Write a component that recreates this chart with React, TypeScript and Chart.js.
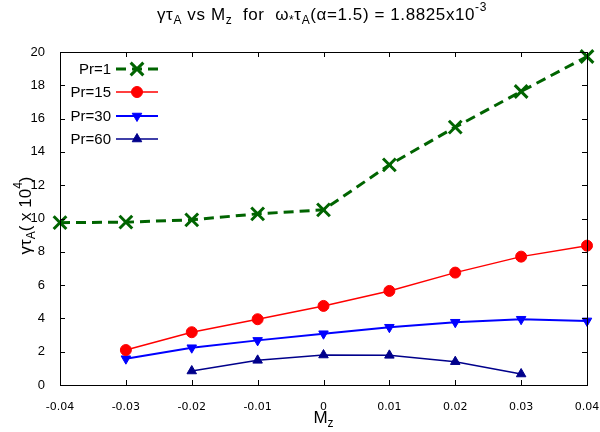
import React, { useEffect, useRef } from "react";
import { Chart, registerables } from "chart.js";

Chart.register(...registerables);

// ---------- data ----------
const mz = [-0.04, -0.03, -0.02, -0.01, 0, 0.01, 0.02, 0.03, 0.04];
const pr1 = [9.75, 9.78, 9.92, 10.28, 10.52, 13.22, 15.49, 17.63, 19.73];
const pr15 = [null, 2.1, 3.17, 3.95, 4.75, 5.65, 6.75, 7.71, 8.37];
const pr30 = [null, 1.58, 2.24, 2.68, 3.08, 3.47, 3.77, 3.95, 3.85];
const pr60 = [null, null, 0.84, 1.48, 1.8, 1.78, 1.4, 0.66, null];

const seriesNames = ["Pr=1", "Pr=15", "Pr=30", "Pr=60"];

const xTicks = [-0.04, -0.03, -0.02, -0.01, 0, 0.01, 0.02, 0.03, 0.04];
const xTickLabels = ["-0.04", "-0.03", "-0.02", "-0.01", "0", "0.01", "0.02", "0.03", "0.04"];
const yTicks = [0, 2, 4, 6, 8, 10, 12, 14, 16, 18, 20];
const yTickLabels = ["0", "2", "4", "6", "8", "10", "12", "14", "16", "18", "20"];

type Seg = { t: string; s?: "sub" | "sup" };
const titleSegs: Seg[] = [
  { t: "γτ" }, { t: "A", s: "sub" }, { t: " vs M" }, { t: "z", s: "sub" },
  { t: "  for  ω" }, { t: "*", s: "sub" }, { t: "τ" }, { t: "A", s: "sub" },
  { t: "(α=1.5) = 1.8825x10" }, { t: "-3", s: "sup" },
];
const yTitleSegs: Seg[] = [
  { t: "γτ" }, { t: "A", s: "sub" }, { t: "( x 10" }, { t: "4", s: "sup" }, { t: ")" },
];
const xTitleSegs: Seg[] = [{ t: "M" }, { t: "z", s: "sub" }];

const toPoints = (vals: (number | null)[]) =>
  mz.map((x, i) => ({ x, y: vals[i] })).filter((p) => p.y !== null) as { x: number; y: number }[];

const SANS = "'Liberation Sans', Arial, sans-serif";

function drawRich(
  ctx: CanvasRenderingContext2D, segs: Seg[], cx: number, cy: number, size: number, spacing = 0
) {
  const main = `${size}px ${SANS}`;
  const small = `${Math.round(size * 0.72)}px ${SANS}`;
  (ctx as any).letterSpacing = `${spacing}px`;
  const widths = segs.map((s) => {
    ctx.font = s.s ? small : main;
    return ctx.measureText(s.t).width;
  });
  const total = widths.reduce((a, b) => a + b, 0);
  let x = cx - total / 2;
  ctx.textAlign = "left";
  ctx.textBaseline = "middle";
  ctx.fillStyle = "#000";
  segs.forEach((s, i) => {
    ctx.font = s.s ? small : main;
    const dy = s.s === "sub" ? size * 0.32 : s.s === "sup" ? -size * 0.42 : 0;
    ctx.fillText(s.t, x, cy + dy);
    x += widths[i];
  });
  (ctx as any).letterSpacing = "0px";
}

function drawMarker(
  ctx: CanvasRenderingContext2D, style: string, x: number, y: number, r: number,
  color: string, bw: number, rotation: number
) {
  ctx.save();
  ctx.translate(x, y);
  ctx.rotate((rotation * Math.PI) / 180);
  ctx.strokeStyle = color;
  ctx.fillStyle = color;
  ctx.lineWidth = bw;
  ctx.setLineDash([]);
  ctx.beginPath();
  if (style === "circle") {
    ctx.arc(0, 0, r, 0, Math.PI * 2);
    ctx.fill();
    ctx.stroke();
  } else if (style === "triangle") {
    for (let k = 0; k < 3; k++) {
      const a = (k * 2 * Math.PI) / 3;
      const px = Math.sin(a) * r;
      const py = -Math.cos(a) * r;
      if (k === 0) ctx.moveTo(px, py);
      else ctx.lineTo(px, py);
    }
    ctx.closePath();
    ctx.fill();
    ctx.stroke();
  } else if (style === "crossRot") {
    const d = r * Math.SQRT1_2;
    ctx.moveTo(-d, -d); ctx.lineTo(d, d);
    ctx.moveTo(-d, d); ctx.lineTo(d, -d);
    ctx.stroke();
  }
  ctx.restore();
}

const decorPlugin = {
  id: "decor",
  afterDraw(chart: any) {
    const ctx: CanvasRenderingContext2D = chart.ctx;
    const a = chart.chartArea;
    const xs = chart.scales.x;
    const ys = chart.scales.y;
    ctx.save();
    // frame
    ctx.strokeStyle = "#000";
    ctx.lineWidth = 1;
    ctx.setLineDash([]);
    ctx.strokeRect(Math.round(a.left) + 0.5, Math.round(a.top) + 0.5,
      Math.round(a.right - a.left), Math.round(a.bottom - a.top));
    const tl = 5;
    ctx.beginPath();
    xs.ticks.forEach((t: any) => {
      const px = Math.round(xs.getPixelForValue(t.value)) + 0.5;
      ctx.moveTo(px, a.bottom); ctx.lineTo(px, a.bottom - tl);
      ctx.moveTo(px, a.top); ctx.lineTo(px, a.top + tl);
    });
    ys.ticks.forEach((t: any) => {
      const py = Math.round(ys.getPixelForValue(t.value)) + 0.5;
      ctx.moveTo(a.left, py); ctx.lineTo(a.left + tl, py);
      ctx.moveTo(a.right, py); ctx.lineTo(a.right - tl, py);
    });
    ctx.stroke();

    // titles
    drawRich(ctx, titleSegs, 322, 15, 17, 0.6);
    drawRich(ctx, xTitleSegs, (a.left + a.right) / 2, 418, 17);
    ctx.save();
    ctx.translate(26, (a.top + a.bottom) / 2 - 3);
    ctx.rotate(-Math.PI / 2);
    drawRich(ctx, yTitleSegs, 0, 0, 17);
    ctx.restore();

    // legend
    const rowY = [69, 92, 116, 139];
    chart.data.datasets.forEach((ds: any, i: number) => {
      const y = rowY[i];
      ctx.font = `15px ${SANS}`;
      ctx.fillStyle = "#000";
      ctx.textAlign = "right";
      ctx.textBaseline = "middle";
      ctx.fillText(ds.label, 111, y + 1);
      ctx.strokeStyle = ds.borderColor;
      ctx.lineWidth = ds.borderWidth;
      ctx.setLineDash(ds.borderDash || []);
      ctx.beginPath();
      ctx.moveTo(116, y);
      ctx.lineTo(158, y);
      ctx.stroke();
      drawMarker(ctx, ds.pointStyle, 137, y, ds.pointRadius, ds.pointBorderColor || ds.borderColor,
        ds.pointBorderWidth, ds.pointRotation || 0);
    });
    ctx.restore();
  },
};

export default function App() {
  const ref = useRef<HTMLCanvasElement | null>(null);
  useEffect(() => {
    if (!ref.current) return;
    const chart = new Chart(ref.current, {
      type: "line",
      data: {
        datasets: [
          {
            label: seriesNames[0],
            data: toPoints(pr1),
            borderColor: "#006400",
            backgroundColor: "#006400",
            borderWidth: 3,
            borderDash: [10, 6],
            pointStyle: "crossRot",
            pointRadius: 9,
            pointBorderWidth: 3,
            pointBorderColor: "#006400",
            clip: false,
          } as any,
          {
            label: seriesNames[1],
            data: toPoints(pr15),
            borderColor: "#ff0000",
            backgroundColor: "#ff0000",
            borderWidth: 1.5,
            pointStyle: "circle",
            pointRadius: 5.5,
            pointBorderWidth: 1,
            clip: false,
          } as any,
          {
            label: seriesNames[2],
            data: toPoints(pr30),
            borderColor: "#0000ff",
            backgroundColor: "#0000ff",
            borderWidth: 2,
            pointStyle: "triangle",
            pointRotation: 180,
            pointRadius: 5.5,
            pointBorderWidth: 1,
            clip: false,
          } as any,
          {
            label: seriesNames[3],
            data: toPoints(pr60),
            borderColor: "#00008b",
            backgroundColor: "#00008b",
            borderWidth: 1.5,
            pointStyle: "triangle",
            pointRadius: 5.5,
            pointBorderWidth: 1,
            clip: false,
          } as any,
        ],
      },
      options: {
        animation: false,
        responsive: false,
        maintainAspectRatio: false,
        layout: { padding: { top: 52, right: 13, bottom: 0, left: 0 } },
        plugins: {
          legend: { display: false },
          title: { display: false },
          tooltip: { enabled: false },
        },
        scales: {
          x: {
            type: "linear",
            min: -0.04,
            max: 0.04,
            grid: { display: false },
            border: { display: false },
            afterBuildTicks: (s: any) => {
              s.ticks = xTicks.map((v) => ({ value: v }));
            },
            afterFit: (s: any) => {
              s.height = 47;
              s.paddingLeft = 0;
              s.paddingRight = 0;
            },
            ticks: {
              autoSkip: false,
              maxRotation: 0,
              padding: 8,
              color: "#000",
              font: { family: "'DejaVu Sans'", size: 11 },
              callback: (v: any) => xTickLabels[xTicks.findIndex((t) => Math.abs(t - v) < 1e-9)] ?? "",
            },
          },
          y: {
            type: "linear",
            min: 0,
            max: 20,
            grid: { display: false },
            border: { display: false },
            afterBuildTicks: (s: any) => {
              s.ticks = yTicks.map((v) => ({ value: v }));
            },
            afterFit: (s: any) => {
              s.width = 60;
              s.paddingTop = 0;
              s.paddingBottom = 0;
            },
            ticks: {
              autoSkip: false,
              padding: 7,
              color: "#000",
              font: { family: SANS, size: 13 },
              callback: (v: any) => yTickLabels[yTicks.indexOf(v)] ?? "",
            },
          },
        },
      } as any,
      plugins: [decorPlugin],
    });
    return () => chart.destroy();
  }, []);
  return (
    <div style={{ position: "absolute", left: 0, top: 0, width: 600, height: 432, background: "#fff" }}>
      <canvas ref={ref} width={600} height={432} style={{ width: 600, height: 432 }} />
    </div>
  );
}
